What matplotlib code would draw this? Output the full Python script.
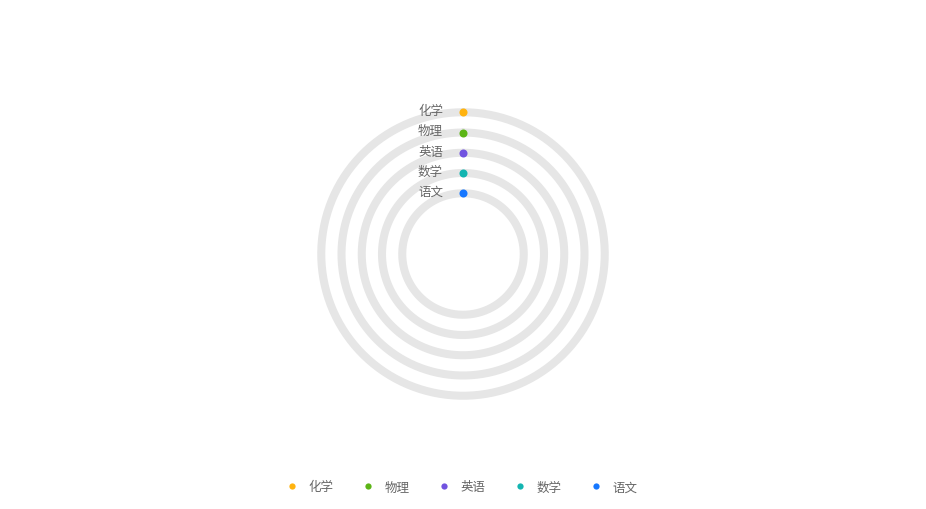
import numpy as np
import matplotlib
matplotlib.use('Agg')
import matplotlib.pyplot as plt
from matplotlib.lines import Line2D

plt.rcParams['font.family'] = ['Noto Sans CJK SC', 'DejaVu Sans']

# data: subject names (outer to inner) and their values (all zero)
subjects = ['化学', '物理', '英语', '数学', '语文']
values = [0, 0, 0, 0, 0]
max_value = 100
colors = ['#FFB30F', '#5CB516', '#7153E0', '#13B5B1', '#1677FF']

W, H = 926, 510
fig = plt.figure(figsize=(W / 100, H / 100), dpi=100)

# polar axes centred at (463, 255) px
rmax = 7.5
px_per_unit = 20.25
R = rmax * px_per_unit
cx, cy = 463, 255
ax = fig.add_axes([(cx - R) / W, (H - cy - R) / H, 2 * R / W, 2 * R / H], projection='polar')
ax.set_theta_zero_location('N')
ax.set_theta_direction(-1)
ax.set_ylim(0, rmax)
ax.axis('off')

n = len(subjects)
theta = np.linspace(0, 2 * np.pi, 400)
lw = 5.8
for i, (name, val, c) in enumerate(zip(subjects, values, colors)):
    r = 3 + (n - 1 - i)
    ax.plot(theta, np.full_like(theta, r), color='#E6E6E6', lw=lw, solid_capstyle='round', zorder=1)
    ang = val / max_value * 2 * np.pi
    ax.scatter([ang], [r], s=lw ** 2, color=c, zorder=3, linewidths=0)
    ax.annotate(name, xy=(0, r), xytext=(-14.4, 1.1), textcoords='offset points',
                ha='right', va='center', fontsize=9, color='#666666')

handles = [Line2D([], [], linestyle='none', marker='o', markersize=4.5,
                  markerfacecolor=c, markeredgewidth=0) for c in colors]
fig.legend(handles, subjects, loc='center', bbox_to_anchor=(461.5 / W, 1 - 488 / H),
           ncol=5, frameon=False, fontsize=9, labelcolor='#666666',
           handlelength=1.0, handletextpad=0.86, columnspacing=2.22)

fig.savefig('out.png', dpi=100)
